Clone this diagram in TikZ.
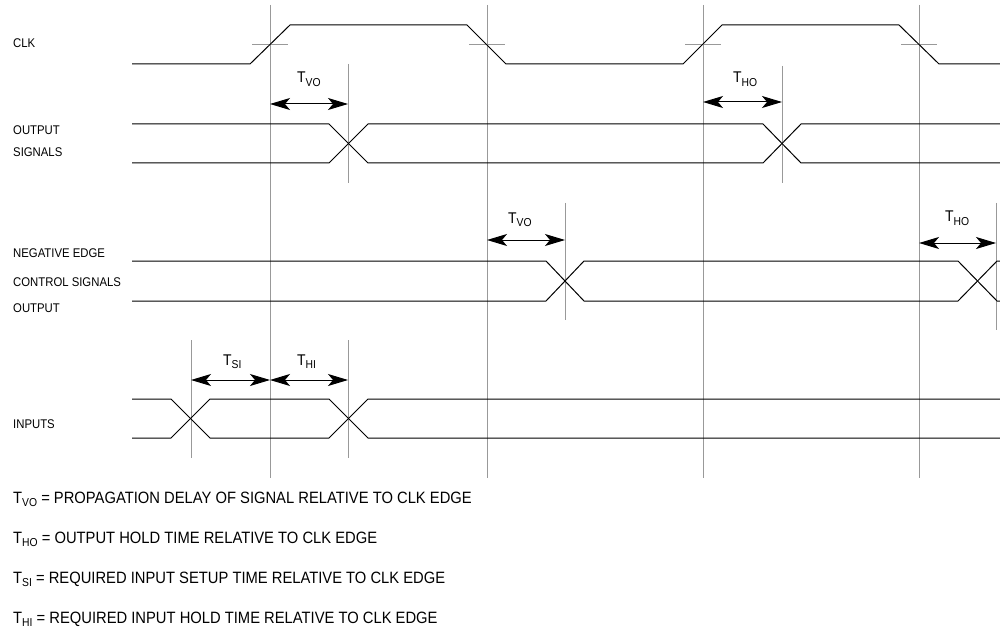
\documentclass[tikz,border=0pt]{standalone}
\usepackage{fontspec}
\setmainfont{Liberation Sans}[FakeStretch=0.9]
\usetikzlibrary{arrows.meta}
\newcommand\tsig[1]{T\raisebox{-3.5pt}{\fontsize{11.5}{12}\selectfont #1}}
\begin{document}
\begin{tikzpicture}[x=1pt,y=-1pt,
  sig/.style={line width=1pt, black},
  guide/.style={line width=0.9pt, color=black!40},
  dim/.style={line width=1pt, {Stealth[length=20pt,width=12pt,inset=5pt]}-{Stealth[length=20pt,width=12pt,inset=5pt]}},
  lab/.style={anchor=base west, inner sep=0pt, font=\fontsize{12.6}{14}\selectfont},
  leg/.style={anchor=base west, inner sep=0pt, font=\fontsize{16.4}{18}\selectfont},
  tl/.style={anchor=base west, inner sep=0pt, font=\fontsize{15.5}{17}\selectfont}]
\useasboundingbox (0,0) rectangle (1000,628);
% clock edge guides
\foreach \x/\n in {270/a,487/b,703/c,919/d}{
  \coordinate (top\n) at (\x,5);
  \coordinate (bot\n) at (\x,478);
  \draw[guide] (top\n) -- (bot\n);
  \draw[guide] ({\x-18},44.5) -- ({\x+18},44.5);
}
% marker lines
\coordinate (m1t) at (348,64);  \coordinate (m1b) at (348,183);
\coordinate (m2t) at (782,66);  \coordinate (m2b) at (782,183);
\coordinate (m3t) at (565,203); \coordinate (m3b) at (565,320);
\coordinate (m4t) at (996,203); \coordinate (m4b) at (996,330);
\coordinate (m5t) at (191,340); \coordinate (m5b) at (191,458);
\coordinate (m6t) at (348,340); \coordinate (m6b) at (348,458);
\foreach \m in {1,...,6} \draw[guide] (m\m t) -- (m\m b);
% CLK
\draw[sig] (132,64)--(250,64)--(290,25)--(467,25)--(506,64)--(683,64)--(722,25)--(899,25)--(939,64)--(1000,64);
% OUTPUT SIGNALS
\draw[sig] (132,124)--(329,124)--(368,163)--(763,163)--(801,124)--(1000,124);
\draw[sig] (132,163)--(329,163)--(368,124)--(763,124)--(801,163)--(1000,163);
% NEGATIVE EDGE
\draw[sig] (132,261)--(546,261)--(584,301)--(958,301)--(997,261)--(1000,261);
\draw[sig] (132,301)--(546,301)--(584,261)--(958,261)--(997,301)--(1000,301);
% INPUTS
\draw[sig] (132,399)--(171,399)--(210,438)--(329,438)--(368,399)--(1000,399);
\draw[sig] (132,438)--(171,438)--(210,399)--(329,399)--(368,438)--(1000,438);
% dimension arrows
\draw[dim] (270,104) -- (348,104);
\draw[dim] (703,102) -- (782,102);
\draw[dim] (487,240) -- (565,240);
\draw[dim] (919,243) -- (996,243);
\draw[dim] (191,380) -- (270,380);
\draw[dim] (270,380) -- (348,380);
% timing labels
\node[tl] (tvo1) at (297,83) {\tsig{VO}};
\node[tl] (tho1) at (733,83) {\tsig{HO}};
\node[tl] (tvo2) at (508,223) {\tsig{VO}};
\node[tl] (tho2) at (945,222) {\tsig{HO}};
\node[tl] (tsi) at (223,365) {\tsig{SI}};
\node[tl] (thi) at (297,365) {\tsig{HI}};
% signal names
\node[lab] (lclk) at (13,48) {CLK};
\node[lab] (lout1) at (13,135) {OUTPUT};
\node[lab] (lout2) at (13,157) {SIGNALS};
\node[lab] (lneg1) at (13,258) {NEGATIVE EDGE};
\node[lab] (lneg2) at (13,286) {CONTROL SIGNALS};
\node[lab] (lneg3) at (13,312) {OUTPUT};
\node[lab] (lin) at (13,428) {INPUTS};
% legend
\node[leg] (g1) at (13,503) {\tsig{VO} = PROPAGATION DELAY OF SIGNAL RELATIVE TO CLK EDGE};
\node[leg] (g2) at (13,543) {\tsig{HO} = OUTPUT HOLD TIME RELATIVE TO CLK EDGE};
\node[leg] (g3) at (13,583) {\tsig{SI} = REQUIRED INPUT SETUP TIME RELATIVE TO CLK EDGE};
\node[leg] (g4) at (13,623) {\tsig{HI} = REQUIRED INPUT HOLD TIME RELATIVE TO CLK EDGE};
\end{tikzpicture}
\end{document}
